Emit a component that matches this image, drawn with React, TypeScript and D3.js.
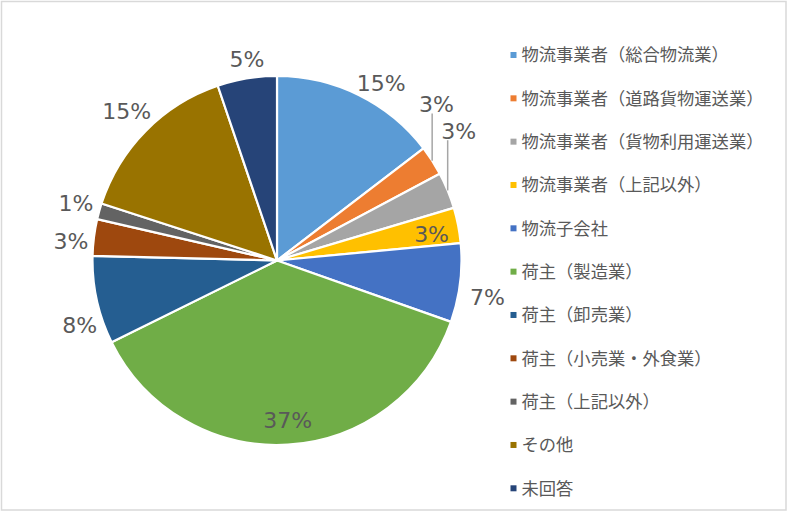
import * as d3 from 'd3';

const WIDTH = 791;
const HEIGHT = 514;
const CENTER = { x: 277, y: 260.5 };
const RADIUS = 184.5;

const categories = [
  '物流事業者（総合物流業）',
  '物流事業者（道路貨物運送業）',
  '物流事業者（貨物利用運送業）',
  '物流事業者（上記以外）',
  '物流子会社',
  '荷主（製造業）',
  '荷主（卸売業）',
  '荷主（小売業・外食業）',
  '荷主（上記以外）',
  'その他',
  '未回答',
];
const shares = [14.6, 2.6, 3.2, 3.1, 6.9, 37.3, 7.7, 3.2, 1.4, 14.8, 5.2];
const colors = [
  '#5B9BD5',
  '#ED7D31',
  '#A5A5A5',
  '#FFC000',
  '#4472C4',
  '#70AD47',
  '#255E91',
  '#9E480E',
  '#636363',
  '#997300',
  '#264478',
];

// label placement, Excel "best fit": [angle shift in degrees, distance as a fraction of radius]
const labelPlacement: [number, number][] = [
  [4.2, 1.114],
  [-11.6, 1.209],
  [-13.1, 1.209],
  [1.3, 0.85],
  [2.8, 1.158],
  [-0.4, 0.869],
  [-5.6, 1.125],
  [-1.7, 1.122],
  [0.4, 1.133],
  [0.2, 1.149],
  [0.9, 1.106],
];
const withLeader = [false, true, true, false, false, false, false, false, false, false, false];

const LABEL_FONT = 'DejaVu Sans, sans-serif';
const LEGEND_FONT = '"Noto Sans CJK JP", sans-serif';
const TEXT_COLOR = '#595959';

function polar(angle: number, r: number) {
  return { x: Math.sin(angle) * r, y: -Math.cos(angle) * r };
}

export default function App() {
  const pie = d3
    .pie<number>()
    .sort(null)
    .value((d) => d);
  const arcs = pie(shares);
  const arc = d3.arc<d3.PieArcDatum<number>>().innerRadius(0).outerRadius(RADIUS);

  const legendY = d3
    .scalePoint<number>()
    .domain(d3.range(categories.length))
    .range([55, 488.3]);

  return (
    <div style={{ position: 'absolute', left: 0, top: 0 }}>
      <svg width={WIDTH} height={HEIGHT} style={{ display: 'block', background: '#fff' }}>
        <rect x={1.5} y={1.5} width={784.5} height={508.5} fill='#fff' stroke='#d9d9d9' strokeWidth={1.5} />
        <g transform={`translate(${CENTER.x},${CENTER.y})`}>
          {arcs.map((a, i) => (
            <path key={categories[i]} d={arc(a) ?? ''} fill={colors[i]} stroke='#fff' strokeWidth={2.2} strokeLinejoin='round' />
          ))}
          {arcs.map((a, i) => {
            const mid = (a.startAngle + a.endAngle) / 2;
            const [shift, dist] = labelPlacement[i];
            const p = polar(mid + (shift * Math.PI) / 180, dist * RADIUS);
            const text = `${Math.round(a.value)}%`;
            let leader = null;
            if (withLeader[i]) {
              const edge = polar(mid, RADIUS);
              const boxW = text.length * 11.5;
              const sx = Math.max(p.x - boxW / 2, Math.min(p.x + boxW / 2, edge.x));
              leader = (
                <line x1={sx} y1={p.y + 9} x2={edge.x} y2={edge.y} stroke='#A6A6A6' strokeWidth={1.5} />
              );
            }
            return (
              <g key={`lbl-${i}`}>
                {leader}
                <text
                  x={p.x}
                  y={p.y}
                  dy='0.36em'
                  textAnchor='middle'
                  fontFamily={LABEL_FONT}
                  fontSize={22}
                  fill={TEXT_COLOR}
                >
                  {text}
                </text>
              </g>
            );
          })}
        </g>
        <g>
          {categories.map((c, i) => (
            <g key={c} transform={`translate(0,${legendY(i)})`}>
              <rect x={510.5} y={-3} width={6} height={6} fill={colors[i]} />
              <text x={521.5} y={0} dy='0.36em' fontFamily={LEGEND_FONT} fontSize={17.3} fill={TEXT_COLOR}>
                {c}
              </text>
            </g>
          ))}
        </g>
      </svg>
    </div>
  );
}
